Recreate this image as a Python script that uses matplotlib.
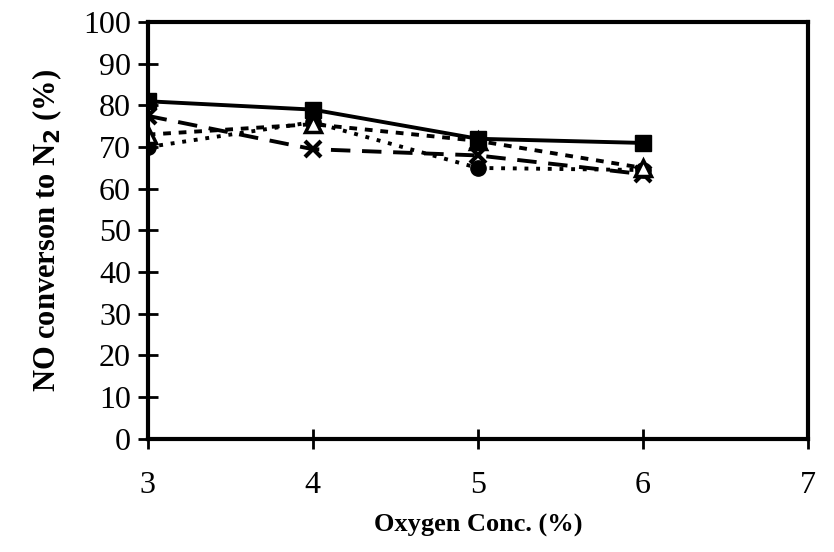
import matplotlib
matplotlib.use('Agg')
import matplotlib.pyplot as plt

plt.rcParams['font.family'] = ['Liberation Serif', 'DejaVu Serif']

oxygen = [3, 4, 5, 6]
conv_square = [81, 79, 72, 71]
conv_triangle = [73, 75.5, 71.5, 65]
conv_cross = [77.5, 69.5, 68, 63.5]
conv_circle = [70, 76, 65, 64.5]

fig = plt.figure(figsize=(8.34, 5.52), dpi=100)
ax = fig.add_axes([0.177, 0.205, 0.792, 0.755])

ax.plot(oxygen, conv_circle, color='black', linestyle=(0, (1, 2)), linewidth=2.8,
        marker='o', markersize=11)
ax.plot(oxygen, conv_cross, color='black', linestyle=(0, (5, 3)), linewidth=2.8,
        marker='x', markersize=11, markeredgewidth=3)
ax.plot(oxygen, conv_triangle, color='black', linestyle=(0, (2, 2)), linewidth=2.8,
        marker='^', markersize=11, markerfacecolor='white', markeredgewidth=2.5)
ax.plot(oxygen, conv_square, color='black', linestyle='-', linewidth=2.8,
        marker='s', markersize=11)

ax.set_xlim(3, 7)
ax.set_ylim(0, 100)
ax.set_xticks([3, 4, 5, 6, 7])
ax.set_yticks(range(0, 101, 10))

for s in ax.spines.values():
    s.set_linewidth(3)
    s.set_color('black')

ax.tick_params(axis='y', direction='inout', length=14, width=2, labelsize=23, pad=5)
ax.tick_params(axis='x', direction='inout', length=14, width=2, labelsize=23, pad=16)

ax.set_xlabel('Oxygen Conc. (%)', fontsize=19, fontweight='bold', labelpad=10)
ax.set_ylabel('NO converson to N$_\\mathbf{2}$ (%)', fontsize=22, fontweight='bold', labelpad=14)

fig.savefig('out.png', dpi=100)
